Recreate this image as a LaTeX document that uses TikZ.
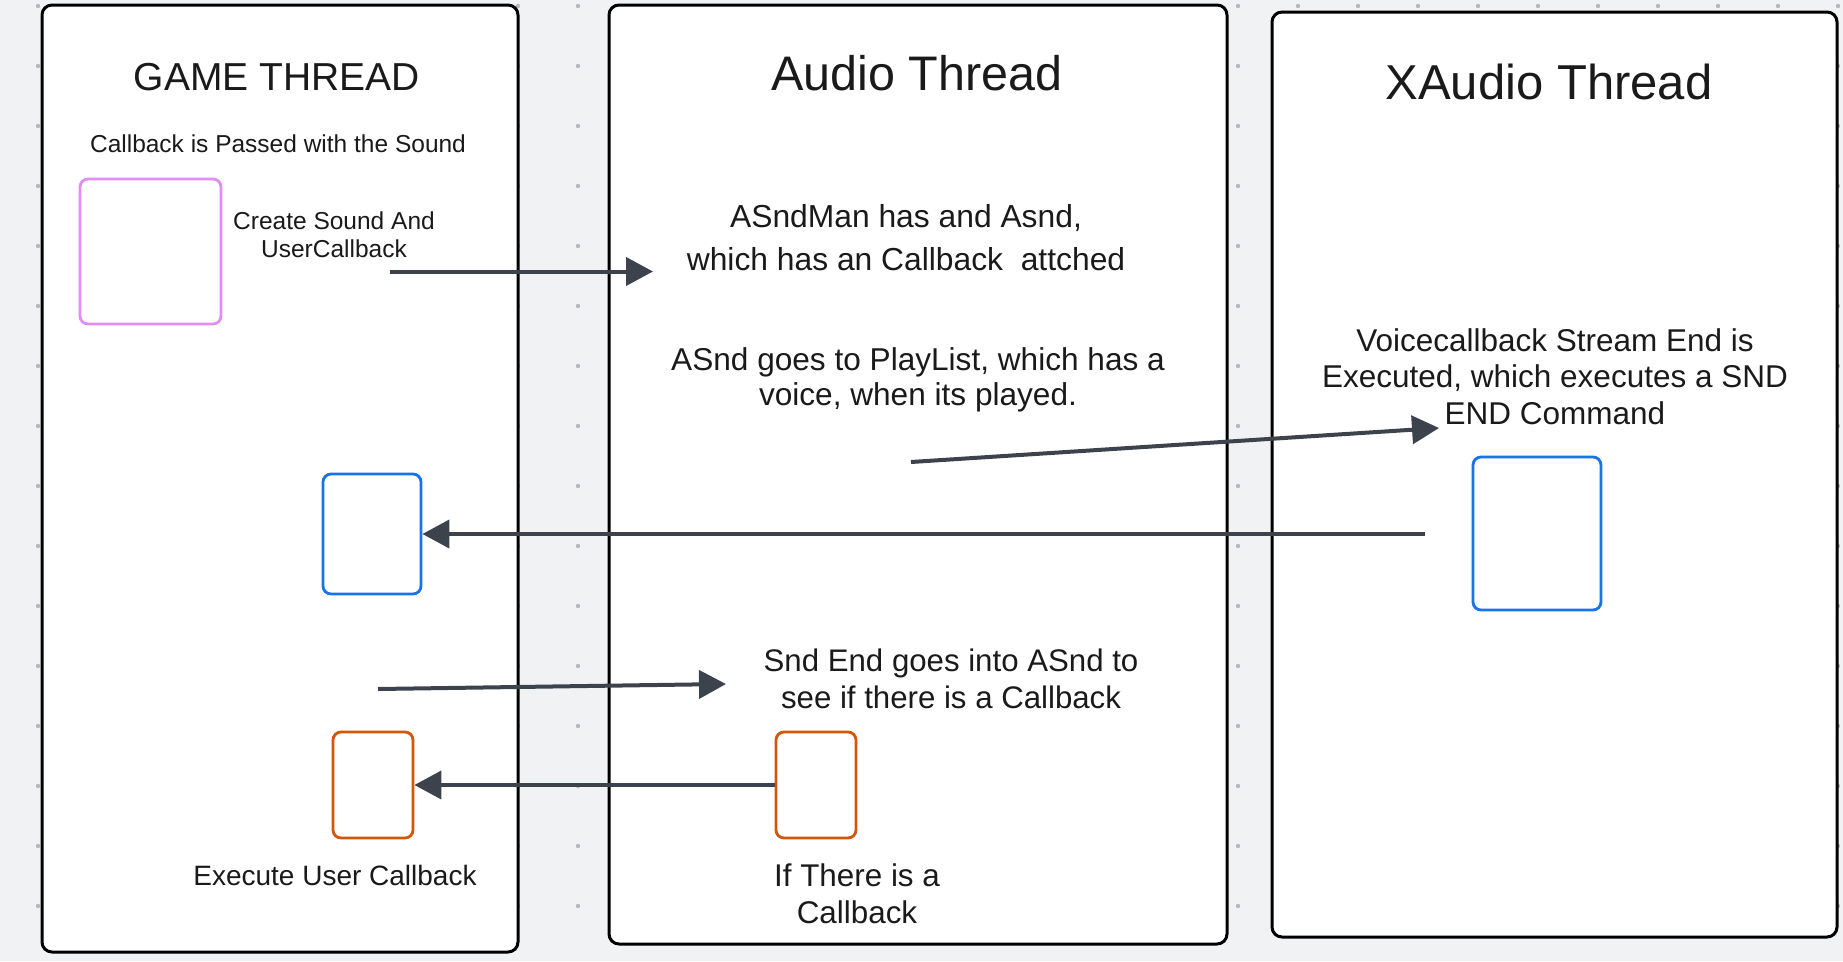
\documentclass[tikz,border=0pt]{standalone}
\usepackage{fontspec}
\setmainfont{Liberation Sans}
\usetikzlibrary{arrows.meta}
\definecolor{bg}{HTML}{F1F2F4}
\definecolor{dotc}{HTML}{B5B8BD}
\definecolor{arr}{HTML}{3C434D}
\definecolor{pinkc}{HTML}{E28CF6}
\definecolor{bluec}{HTML}{1A73E8}
\definecolor{orangec}{HTML}{D3560B}
\definecolor{ink}{HTML}{1A1A1A}
\begin{document}
\begin{tikzpicture}[x=1pt,y=-1pt,
  panel/.style={draw=black, line width=3pt, fill=white, rounded corners=10pt, inner sep=0pt},
  sbox/.style={line width=2.8pt, rounded corners=8pt, fill=white, inner sep=0pt},
  conn/.style={draw=arr, line width=4pt, -{Triangle[length=27pt,width=28pt]}},
  lbl/.style={inner sep=0pt, align=center, text=ink},
]
\fill[bg] (0,0) rectangle (1843,961);
\useasboundingbox (0,0) rectangle (1843,961);
\foreach \x in {38,98,...,1838} \foreach \y in {6,66,...,906} \fill[dotc] (\x,\y) circle (2.2pt);

% panels
\node[panel, minimum width=476pt, minimum height=947pt] (game) at (280,478.5) {};
\node[panel, minimum width=618pt, minimum height=939pt] (audio) at (918,474.5) {};
\node[panel, minimum width=565pt, minimum height=925pt] (xaudio) at (1554.5,474.5) {};

% titles
\node[lbl, anchor=base, font=\fontsize{39pt}{46pt}\selectfont] (tgame) at (277,90) {GAME THREAD};
\node[lbl, anchor=base, font=\fontsize{48.5pt}{56pt}\selectfont] (taudio) at (917,90) {Audio Thread};
\node[lbl, anchor=base, font=\fontsize{49pt}{56pt}\selectfont] (txaudio) at (1549,99) {XAudio Thread};

% game thread texts
\node[lbl, anchor=base, font=\fontsize{24.5pt}{28pt}\selectfont] (passed) at (278,152) {Callback is Passed with the Sound};
\node[lbl, anchor=north, font=\fontsize{24.5pt}{28pt}\selectfont] (create) at (334,211.4) {Create Sound And\\UserCallback};
\node[lbl, anchor=base, font=\fontsize{28pt}{32pt}\selectfont] (execute) at (335,885) {Execute User Callback};

% audio thread texts
\node[lbl, anchor=north, font=\fontsize{31.8pt}{43pt}\selectfont] (asndman) at (906,204) {ASndMan has and Asnd,\\which has an Callback\ \ attched};
\node[lbl, anchor=north, font=\fontsize{31.6pt}{35.5pt}\selectfont] (playlist) at (918,347) {ASnd goes to PlayList, which has a\\voice, when its played.};
\node[lbl, anchor=north, font=\fontsize{31.2pt}{37pt}\selectfont] (sndend) at (951,648.5) {Snd End goes into ASnd to\\see if there is a Callback};
\node[lbl, anchor=north, font=\fontsize{31.4pt}{37pt}\selectfont] (ifthere) at (857,863.4) {If There is a\\Callback};

% xaudio texts
\node[lbl, anchor=north, font=\fontsize{31.5pt}{36.5pt}\selectfont] (voicecb) at (1555,328) {Voicecallback Stream End is\\Executed, which executes a SND\\END Command};

% small boxes
\node[sbox, draw=pinkc, minimum width=141pt, minimum height=145pt] (pink) at (150.5,251.5) {};
\node[sbox, draw=bluec, minimum width=98pt, minimum height=120pt] (blueG) at (372,534) {};
\node[sbox, draw=bluec, minimum width=128pt, minimum height=153pt] (blueX) at (1537,533.5) {};
\node[sbox, draw=orangec, minimum width=80pt, minimum height=106pt] (orangeA) at (816,785) {};
\node[sbox, draw=orangec, minimum width=80pt, minimum height=106pt] (orangeG) at (373,785) {};

% connector end points
\coordinate (a1s) at (390,271.5);
\coordinate (a1e) at (653,271.5);
\coordinate (a2s) at (911,462);
\coordinate (a2e) at (1439,428);
\coordinate (a3s) at (1425,534);
\coordinate (a4s) at (378,689);
\coordinate (a4e) at (726,684);

\draw[conn] (a1s) -- (a1e);
\draw[conn] (a2s) -- (a2e);
\draw[conn] (a3s) -- (blueG.east);
\draw[conn] (a4s) -- (a4e);
\draw[conn] (orangeA.west) -- (orangeG.east);
\end{tikzpicture}
\end{document}
